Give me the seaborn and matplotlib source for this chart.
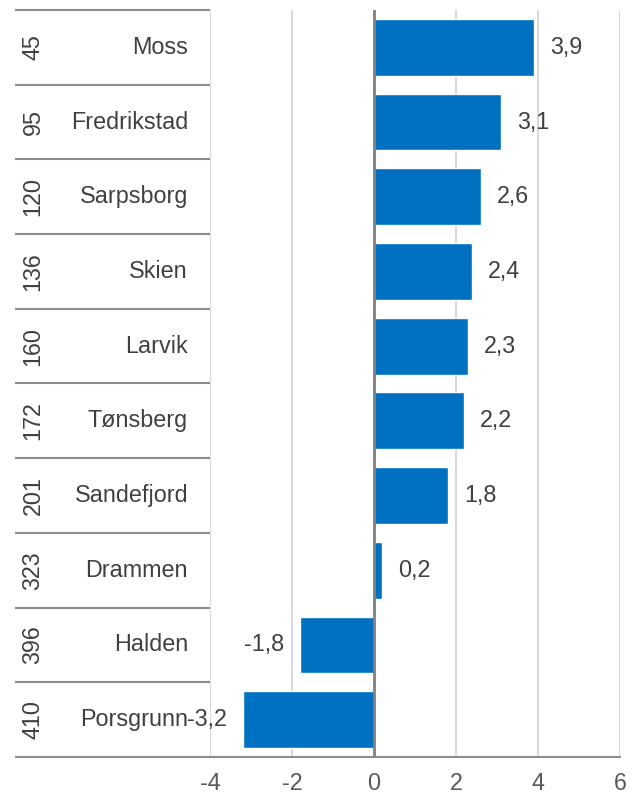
import pandas as pd
import matplotlib
matplotlib.use("Agg")
import matplotlib.pyplot as plt
import matplotlib.transforms as mtransforms
import seaborn as sns

cities = ['Moss', 'Fredrikstad', 'Sarpsborg', 'Skien', 'Larvik', 'Tønsberg',
          'Sandefjord', 'Drammen', 'Halden', 'Porsgrunn']
ranks = ['45', '95', '120', '136', '160', '172', '201', '323', '396', '410']
values = [3.9, 3.1, 2.6, 2.4, 2.3, 2.2, 1.8, 0.2, -1.8, -3.2]
xticks = [-4, -2, 0, 2, 4, 6]

df = pd.DataFrame({'city': cities, 'rank': ranks, 'value': values})

sns.set_style('white')
plt.rcParams['font.family'] = ['Liberation Sans', 'DejaVu Sans']

fs = 16.8
txt = '#404040'
sep = '#8c8c8c'

fig = plt.figure(figsize=(6.4, 7.96), dpi=100)
W, H = 640, 796
left, right, top, bottom = 210, 620, 10, 757
ax = fig.add_axes([left / W, 1 - bottom / H, (right - left) / W, (bottom - top) / H])

sns.barplot(data=df, x='value', y='city', order=cities, color='#0070C0',
            saturation=1, width=0.76, orient='h', ax=ax, zorder=3)

ax.set_xlim(-4, 6)
ax.set_ylim(len(cities) - 0.5, -0.5)
ax.set_xticks(xticks)
ax.set_xticklabels([str(t) for t in xticks], fontsize=fs, color='#595959')
ax.tick_params(axis='x', length=0, pad=11)
ax.set_yticks([])
ax.set_xlabel('')
ax.set_ylabel('')

for s in ['top', 'right', 'left']:
    ax.spines[s].set_visible(False)
ax.spines['bottom'].set_color(sep)
ax.spines['bottom'].set_linewidth(1.5)

for t in xticks:
    if t == 0:
        ax.axvline(0, color='#7f7f7f', lw=2, zorder=4)
    else:
        ax.axvline(t, color='#d9d9d9', lw=1.5, zorder=1)

labels = [f'{v:.1f}'.replace('.', ',') for v in values]
ax.bar_label(ax.containers[0], labels=labels, padding=11.5, fontsize=fs, color=txt)

trans = mtransforms.blended_transform_factory(ax.transAxes, ax.transData)
x0 = (15 - left) / (right - left)
for i in range(len(cities) + 1):
    ax.plot([x0, 0], [i - 0.5, i - 0.5], transform=trans, color=sep, lw=1.5,
            clip_on=False, solid_capstyle='butt')

for i, (c, r) in enumerate(zip(cities, ranks)):
    ax.text((188 - left) / (right - left), i, c, transform=trans, ha='right',
            va='center', fontsize=fs, color=txt)
    ax.text((33 - left) / (right - left), i, r, transform=trans, ha='center',
            va='center', fontsize=fs, color=txt, rotation=90)

fig.savefig('out.png', dpi=100)
